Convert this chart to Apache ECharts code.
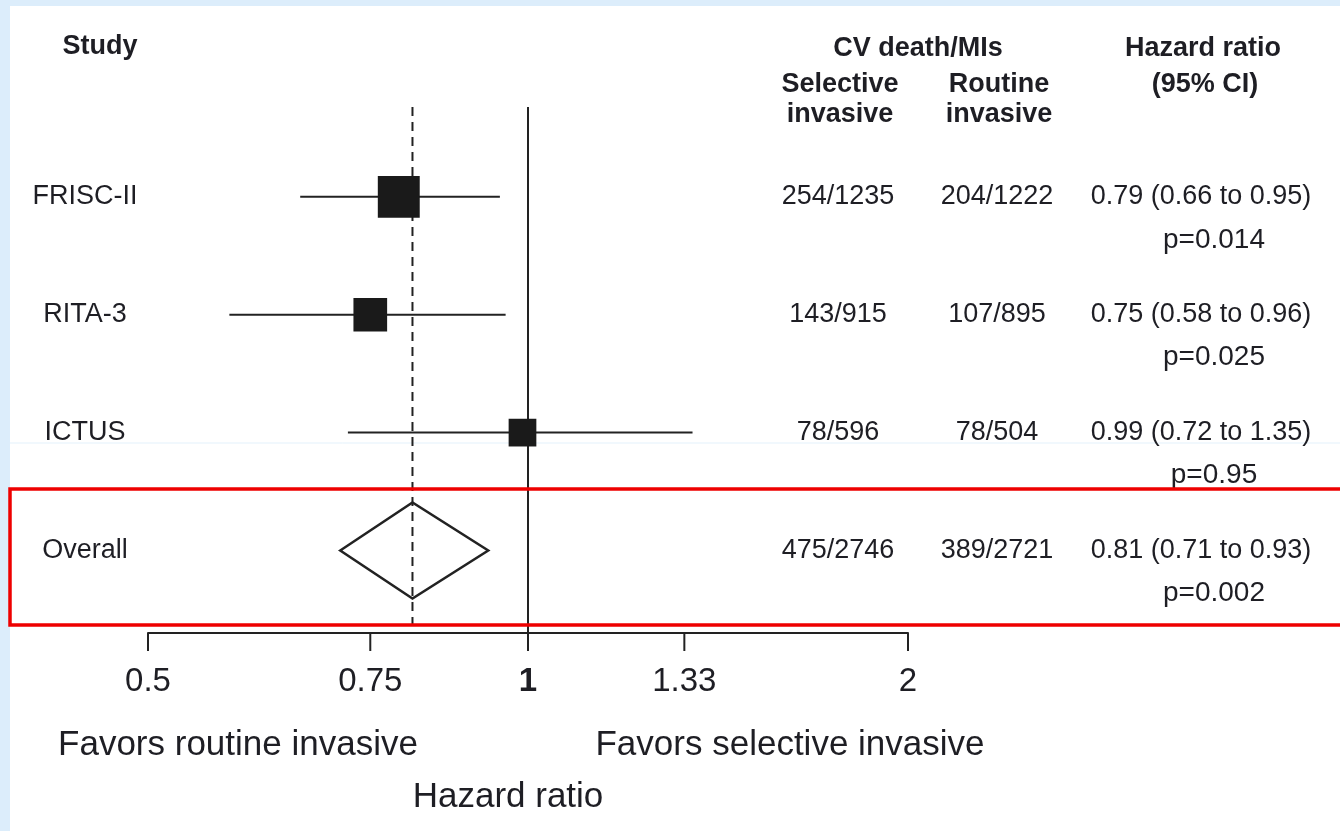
<!DOCTYPE html>
<html>
<head>
<meta charset="utf-8">
<script src="https://cdn.jsdelivr.net/npm/echarts@6/dist/echarts.min.js"></script>
<style>
html,body{margin:0;padding:0;background:#dcedfb;}
#chart{width:1340px;height:831px;}
</style>
</head>
<body>
<div id="chart"></div>
<script>
// ---- data ----
const studies = ['FRISC-II', 'RITA-3', 'ICTUS', 'Overall'];
const hrValues = [0.79, 0.75, 0.99, 0.81];
const ciLow = [0.66, 0.58, 0.72, 0.71];
const ciHigh = [0.95, 0.96, 1.35, 0.93];
const weights = [48, 31, 21, null];
const selectiveEvents = ['254/1235', '143/915', '78/596', '475/2746'];
const routineEvents = ['204/1222', '107/895', '78/504', '389/2721'];
const pValues = ['p=0.014', 'p=0.025', 'p=0.95', 'p=0.002'];
const tickValues = [0.5, 0.75, 1, 1.33, 2];
const tickLabels = ['0.5', '0.75', '1', '1.33', '2'];

// ---- layout / style ----
const FAMILY = 'Liberation Sans';
const TXT = '#1e1e24';
const LINE = '#222222';
const Y_MAX = 4.7;
const REF_TOP_PX = 107;

function txt(text, x, y, size, bold, extra) {
  return Object.assign({
    text: text, x: x, y: y, textAlign: 'center', textVerticalAlign: 'middle',
    align: 'center', verticalAlign: 'middle',
    fontFamily: FAMILY, fontSize: size, fontWeight: bold ? 'bold' : 'normal', fill: TXT
  }, extra || {});
}

const chart = echarts.init(document.getElementById('chart'), null, {renderer: 'canvas'});

function fmt(v) { return v.toFixed(2); }

const forestData = studies.map((s, i) => [hrValues[i], ciLow[i], ciHigh[i], i + 1, weights[i] == null ? -1 : weights[i]]);
const tableData = studies.map((s, i) => [1, i + 1, i]);

const option = {
  backgroundColor: '#dcedfb',
  animation: false,
  grid: {left: 148, right: 432, top: 79, height: 554, containLabel: false},
  xAxis: {
    type: 'log', logBase: 2, min: 0.5, max: 2,
    axisLine: {show: true, onZero: false, lineStyle: {color: LINE, width: 2}},
    axisTick: {show: false}, axisLabel: {show: false}, splitLine: {show: false}
  },
  yAxis: {
    type: 'value', min: 0, max: Y_MAX, inverse: true, show: false,
    splitLine: {show: false}
  },
  graphic: [
    {type: 'rect', z: -10, silent: true, shape: {x: 10, y: 6, width: 1330, height: 825}, style: {fill: '#ffffff'}},
    {type: 'line', z: -9, silent: true, shape: {x1: 10, y1: 443, x2: 1340, y2: 443}, style: {stroke: '#e3f1fb', lineWidth: 1}},
    // header
    {type: 'text', style: txt('Study', 100, 47, 27, true)},
    {type: 'text', style: txt('CV death/MIs', 918, 49, 27, true)},
    {type: 'text', style: txt('Selective', 840, 85, 27, true)},
    {type: 'text', style: txt('invasive', 840, 115, 27, true)},
    {type: 'text', style: txt('Routine', 999, 85, 27, true)},
    {type: 'text', style: txt('invasive', 999, 115, 27, true)},
    {type: 'text', style: txt('Hazard ratio', 1203, 49, 27, true)},
    {type: 'text', style: txt('(95% CI)', 1205, 85, 27, true)},
    // bottom texts
    {type: 'text', style: txt('Favors routine invasive', 238, 745, 35, false)},
    {type: 'text', style: txt('Favors selective invasive', 790, 745, 35, false)},
    {type: 'text', style: txt('Hazard ratio', 508, 797, 35, false)},
    // highlight box
    {type: 'rect', z: 100, silent: true, shape: {x: 10, y: 489, width: 1340, height: 136}, style: {fill: 'none', stroke: '#ee0000', lineWidth: 3.5}}
  ],
  series: [
    {
      // reference lines: no effect (HR = 1) and overall estimate (dashed)
      type: 'custom', name: 'refs', z: 1,
      data: [[1, 0], [hrValues[3], 1]],
      renderItem: function (params, api) {
        const x = api.value(0);
        const top = api.coord([x, 0]);
        const bot = api.coord([x, Y_MAX]);
        const dashed = api.value(1) === 1;
        return {
          type: 'line',
          shape: {x1: top[0], y1: REF_TOP_PX, x2: top[0], y2: dashed ? bot[1] - 3 : bot[1]},
          style: {stroke: LINE, lineWidth: 2, lineDash: dashed ? [9, 6] : null}
        };
      }
    },
    {
      type: 'custom', name: 'forest', z: 3,
      data: forestData,
      renderItem: function (params, api) {
        const hr = api.value(0), lo = api.value(1), hi = api.value(2), row = api.value(3), w = api.value(4);
        const c = api.coord([hr, row]);
        const l = api.coord([lo, row]);
        const r = api.coord([hi, row]);
        if (w < 0) {
          const h = 48;
          return {
            type: 'polygon',
            shape: {points: [[l[0], c[1]], [c[0], c[1] - h], [r[0], c[1]], [c[0], c[1] + h]]},
            style: {fill: 'rgba(255,255,255,0)', stroke: LINE, lineWidth: 2.5}
          };
        }
        const size = Math.sqrt(w) * 6.05;
        return {
          type: 'group',
          children: [
            {type: 'line', shape: {x1: l[0], y1: c[1], x2: r[0], y2: c[1]}, style: {stroke: LINE, lineWidth: 2}},
            {type: 'rect', shape: {x: c[0] - size / 2, y: c[1] - size / 2, width: size, height: size}, style: {fill: '#1a1a1a'}}
          ]
        };
      }
    },
    {
      // custom axis ticks & labels
      type: 'custom', name: 'ticks', z: 4,
      data: tickValues.map((v, i) => [v, Y_MAX, i]),
      renderItem: function (params, api) {
        const p = api.coord([api.value(0), api.value(1)]);
        const i = api.value(2);
        return {
          type: 'group',
          children: [
            {type: 'line', shape: {x1: p[0], y1: p[1], x2: p[0], y2: p[1] + 18}, style: {stroke: LINE, lineWidth: 2}},
            {type: 'text', style: txt(tickLabels[i], p[0], p[1] + 49, 33, tickValues[i] === 1)}
          ]
        };
      }
    },
    {
      // table text aligned to rows
      type: 'custom', name: 'table', z: 5,
      data: tableData,
      renderItem: function (params, api) {
        const row = api.value(1);
        const i = api.value(2);
        const y = api.coord([1, row])[1];
        return {
          type: 'group',
          children: [
            {type: 'text', style: txt(studies[i], 85, y, 27, false)},
            {type: 'text', style: txt(selectiveEvents[i], 838, y, 27, false)},
            {type: 'text', style: txt(routineEvents[i], 997, y, 27, false)},
            {type: 'text', style: txt(fmt(hrValues[i]) + ' (' + fmt(ciLow[i]) + ' to ' + fmt(ciHigh[i]) + ')', 1201, y, 27, false)},
            {type: 'text', style: txt(pValues[i], 1214, y + 43, 28, false)}
          ]
        };
      }
    }
  ]
};
chart.setOption(option);
</script>
</body>
</html>
